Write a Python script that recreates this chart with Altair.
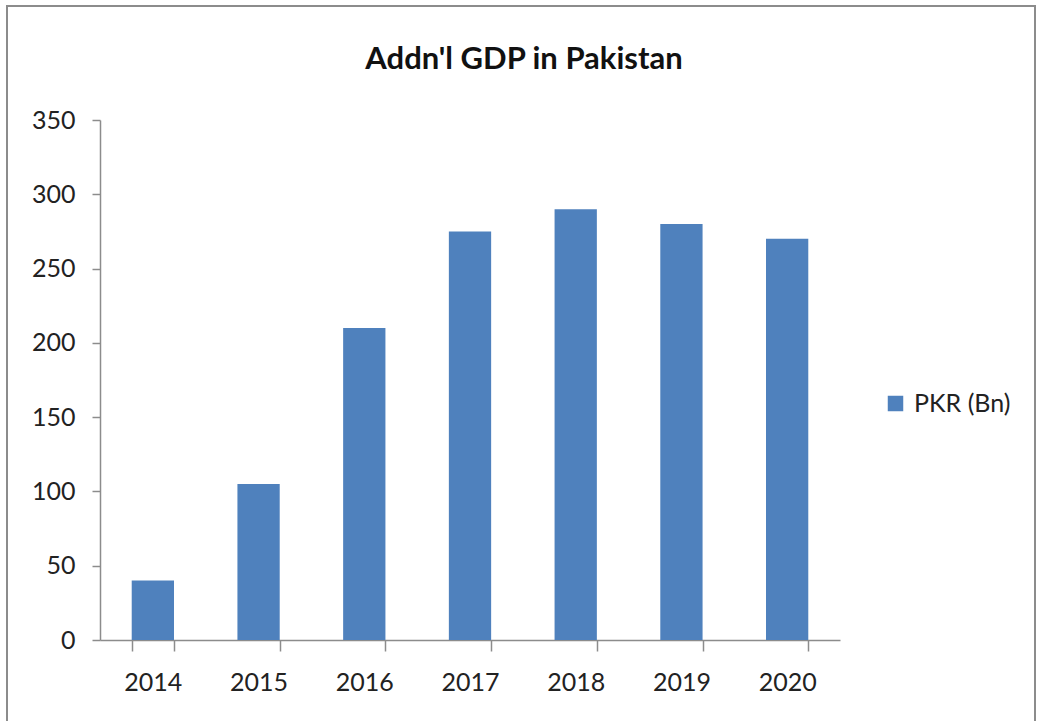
import altair as alt
import pandas as pd

years = ["2014", "2015", "2016", "2017", "2018", "2019", "2020"]
values = [40, 105, 210, 275, 290, 280, 270]
series = ["PKR (Bn)"] * len(years)

df = pd.DataFrame({"year": years, "value": values, "series": series})

FONT = "Lato"

bars = alt.Chart(df).mark_bar(color="#4F81BD").encode(
    x=alt.X("year:N", sort=years, title=None,
            scale=alt.Scale(paddingInner=0.6, paddingOuter=0.3),
            axis=alt.Axis(labelAngle=0, tickBand="extent", tickSize=11,
                          labelFontSize=25, labelPadding=19, labelFont=FONT,
                          labelColor="#222222", domainColor="#8c8c8c",
                          tickColor="#8c8c8c", domainWidth=1.5, tickWidth=1.5)),
    y=alt.Y("value:Q", title=None,
            scale=alt.Scale(domain=[0, 350], nice=False),
            axis=alt.Axis(values=[0, 50, 100, 150, 200, 250, 300, 350], grid=False,
                          tickSize=8, labelFontSize=25, labelPadding=17, labelFont=FONT,
                          labelColor="#222222", domainColor="#8c8c8c",
                          tickColor="#8c8c8c", domainWidth=1.5, tickWidth=1.5)),
    color=alt.Color("series:N", scale=alt.Scale(domain=["PKR (Bn)"], range=["#4F81BD"]),
                    legend=alt.Legend(title=None, orient="none", legendX=783, legendY=271,
                                      symbolType="square", symbolSize=240,
                                      symbolStrokeWidth=0, labelFontSize=25,
                                      labelFont=FONT, labelColor="#222222",
                                      labelOffset=6)),
)

frame = alt.Chart(pd.DataFrame({"f": [0]})).mark_rect(
    filled=False, stroke="#8c8c8c", strokeWidth=2
).encode(
    x=alt.value(-93), x2=alt.value(935), y=alt.value(-114), y2=alt.value(640)
)

chart = alt.layer(frame, bars).properties(
    width=740, height=520,
    autosize=alt.AutoSizeParams(type="none"),
    padding={"left": 100, "top": 120, "right": 202, "bottom": 81},
    title=alt.TitleParams("Addn'l GDP in Pakistan", font=FONT, fontSize=31,
                          fontWeight="bold", color="#111111", anchor="middle",
                          dx=54, offset=-71),
).configure_view(stroke=None)

chart.save("out.html", embed_options={"renderer": "svg", "actions": False})
